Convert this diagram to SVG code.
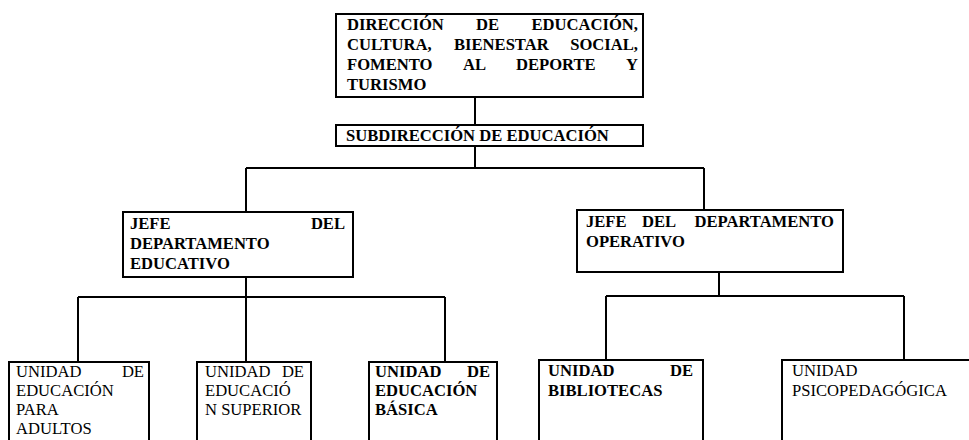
<svg xmlns="http://www.w3.org/2000/svg" width="969" height="440" viewBox="0 0 969 440">
<style>
.box{fill:#fff;stroke:#000;stroke-width:2}
.con{fill:none;stroke:#000;stroke-width:2}
text{font-family:"Liberation Serif","Times New Roman",serif;font-size:16.6px;fill:#000}
.b{font-weight:bold}
.n{font-weight:normal}
</style>
<rect width="969" height="440" fill="#fff"/>
<g id="connectors">
<path class="con" d="M475,97V125M475,146V168M246,168H704M246,168V212M704,168V210"/>
<path class="con" d="M246,277V297M78,297H445M78,297V362M246,297V362M445,297V362"/>
<path class="con" d="M719,272V296M606,296H904M606,296V360M904,296V360"/>
</g>
<g id="direccion">
<rect class="box" x="336" y="14" width="307" height="83"/>
<text class="b" y="30"><tspan x="347">DIRECCIÓN</tspan><tspan x="476">DE</tspan><tspan x="638" text-anchor="end">EDUCACIÓN,</tspan></text>
<text class="b" y="50"><tspan x="347">CULTURA,</tspan><tspan x="454">BIENESTAR</tspan><tspan x="638" text-anchor="end">SOCIAL,</tspan></text>
<text class="b" y="70"><tspan x="347">FOMENTO</tspan><tspan x="463">AL</tspan><tspan x="516">DEPORTE</tspan><tspan x="638" text-anchor="end">Y</tspan></text>
<text class="b" x="347" y="90">TURISMO</text>
</g>
<g id="subdireccion">
<rect class="box" x="336" y="125" width="307" height="21"/>
<text class="b" x="346" y="141">SUBDIRECCIÓN DE EDUCACIÓN</text>
</g>
<g id="jefe-educativo">
<rect class="box" x="123" y="212" width="230" height="65"/>
<text class="b" y="229"><tspan x="130">JEFE</tspan><tspan x="345" text-anchor="end">DEL</tspan></text>
<text class="b" x="130" y="249">DEPARTAMENTO</text>
<text class="b" x="130" y="269">EDUCATIVO</text>
</g>
<g id="jefe-operativo">
<rect class="box" x="577" y="210" width="266" height="62"/>
<text class="b" y="227"><tspan x="586">JEFE</tspan><tspan x="642">DEL</tspan><tspan x="834" text-anchor="end">DEPARTAMENTO</tspan></text>
<text class="b" x="586" y="247">OPERATIVO</text>
</g>
<g id="unidad-adultos">
<rect class="box" x="9" y="362" width="140" height="90"/>
<text class="n" y="377"><tspan x="16">UNIDAD</tspan><tspan x="144" text-anchor="end">DE</tspan></text>
<text class="n" x="16" y="396">EDUCACIÓN</text>
<text class="n" x="16" y="415">PARA</text>
<text class="n" x="16" y="434">ADULTOS</text>
</g>
<g id="unidad-superior">
<rect class="box" x="197" y="362" width="114" height="90"/>
<text class="n" y="377"><tspan x="205">UNIDAD</tspan><tspan x="304" text-anchor="end">DE</tspan></text>
<text class="n" x="205" y="396">EDUCACIÓ</text>
<text class="n" x="205" y="415">N SUPERIOR</text>
</g>
<g id="unidad-basica">
<rect class="box" x="369" y="362" width="128" height="90"/>
<text class="b" y="377"><tspan x="375">UNIDAD</tspan><tspan x="490" text-anchor="end">DE</tspan></text>
<text class="b" x="375" y="396">EDUCACIÓN</text>
<text class="b" x="375" y="415">BÁSICA</text>
</g>
<g id="unidad-bibliotecas">
<rect class="box" x="539" y="360" width="164" height="90"/>
<text class="b" y="376"><tspan x="548">UNIDAD</tspan><tspan x="693" text-anchor="end">DE</tspan></text>
<text class="b" x="548" y="396">BIBLIOTECAS</text>
</g>
<g id="unidad-psicopedagogica">
<rect class="box" x="782" y="360" width="200" height="90"/>
<text class="n" x="792" y="376">UNIDAD</text>
<text class="n" x="792" y="396">PSICOPEDAGÓGICA</text>
</g>
</svg>
